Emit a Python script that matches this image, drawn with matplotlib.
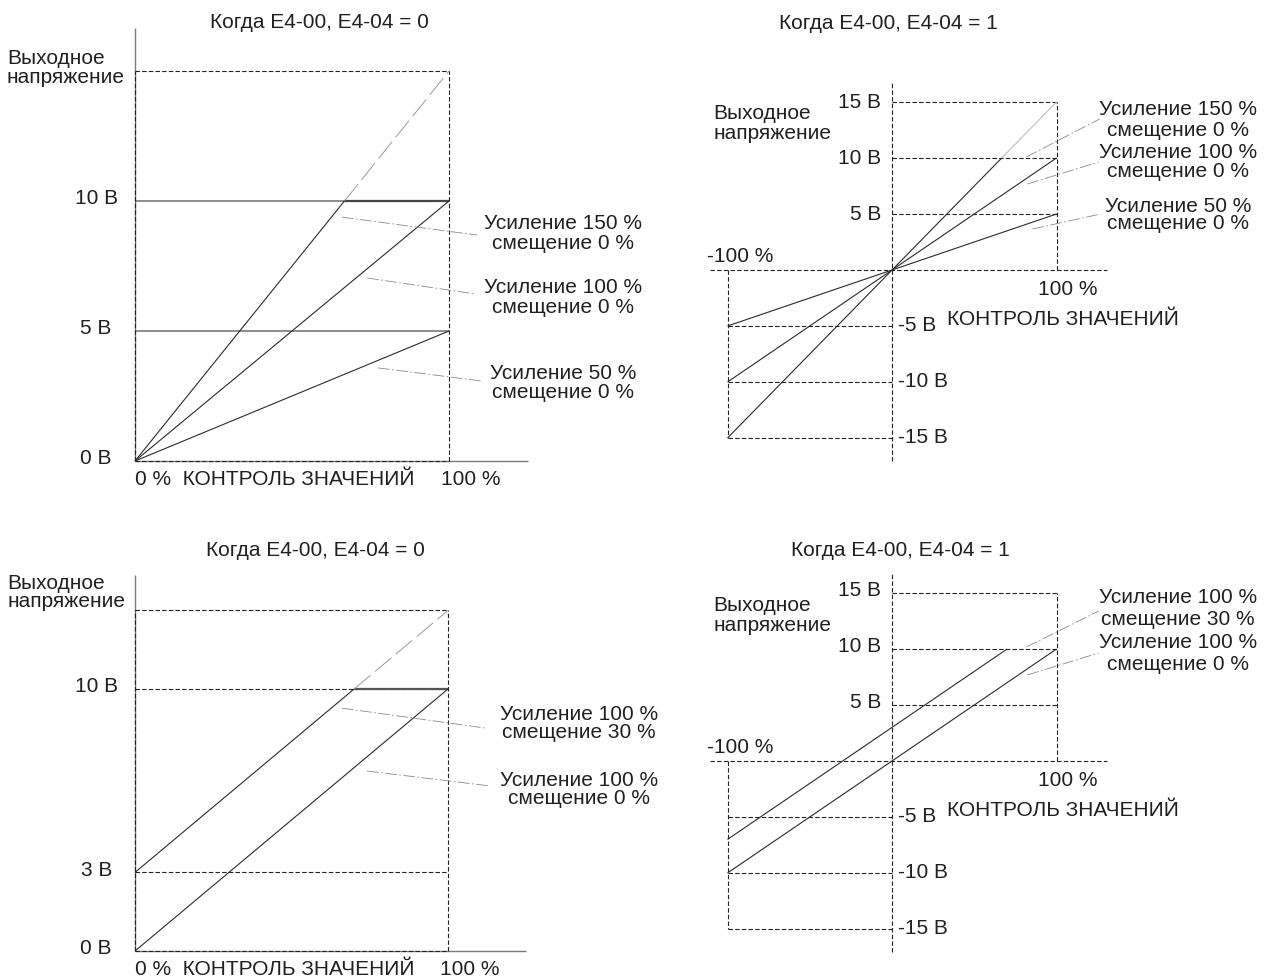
import matplotlib
matplotlib.use("Agg")
import matplotlib.pyplot as plt

plt.rcParams['font.family'] = ['Liberation Sans', 'DejaVu Sans']

W, H = 1269, 978

# ---- data: control value (%) vs output voltage (V) ----
# top-left: E4-00, E4-04 = 0, bias 0 %
tl_g150_x, tl_g150_y = [0, 66.7], [0, 10]
tl_g150_ext_x, tl_g150_ext_y = [66.7, 100], [10, 15]
tl_g100_x, tl_g100_y = [0, 100], [0, 10]
tl_g50_x, tl_g50_y = [0, 100], [0, 5]
tl_ticks = [10, 5, 0]
tl_tick_labels = ["10 В", "5 В", "0 В"]
tl_top = 15

# top-right: E4-00, E4-04 = 1, bias 0 %
tr_g150_x, tr_g150_y = [-100, 66.7], [-15, 10]
tr_g150_ext_x, tr_g150_ext_y = [66.7, 100], [10, 15]
tr_g100_x, tr_g100_y = [-100, 100], [-10, 10]
tr_g50_x, tr_g50_y = [-100, 100], [-5, 5]

# bottom-left: E4-00, E4-04 = 0, gain 100 %
bl_b30_x, bl_b30_y = [0, 70], [3, 10]
bl_b30_ext_x, bl_b30_ext_y = [70, 100], [10, 13]
bl_b0_x, bl_b0_y = [0, 100], [0, 10]
bl_ticks = [10, 3, 0]
bl_tick_labels = ["10 В", "3 В", "0 В"]
bl_top = 13

# bottom-right: E4-00, E4-04 = 1, gain 100 %
br_b30_x, br_b30_y = [-100, 70], [-7, 10]
br_b0_x, br_b0_y = [-100, 100], [-10, 10]

bip_pos = [15, 10, 5]
bip_neg = [-5, -10, -15]
bip_pos_labels = ["15 В", "10 В", "5 В"]
bip_neg_labels = ["-5 В", "-10 В", "-15 В"]

labels_gain = [("Усиление 150 %", "смещение 0 %"),
               ("Усиление 100 %", "смещение 0 %"),
               ("Усиление 50 %", "смещение 0 %")]
labels_bias = [("Усиление 100 %", "смещение 30 %"),
               ("Усиление 100 %", "смещение 0 %")]

TXT = '#231f20'
LN = '#2b2b2b'
FS = 15

fig = plt.figure(figsize=(W / 100, H / 100), dpi=100)


def make_ax(left, top, right, bottom, x0, xs, y0, ys):
    ax = fig.add_axes([left / W, 1 - bottom / H, (right - left) / W, (bottom - top) / H])
    ax.set_xlim((left - x0) / xs, (right - x0) / xs)
    ax.set_ylim((y0 - bottom) / ys, (y0 - top) / ys)
    ax.axis('off')
    return ax


def line(ax, x, y, **kw):
    kw.setdefault('color', LN)
    kw.setdefault('lw', 0.8)
    ax.plot(x, y, clip_on=False, solid_capstyle='butt', **kw)


def dash(ax, x, y):
    line(ax, x, y, color='#222222', lw=0.8, dashes=(4, 2))


def leader(ax, x, y):
    line(ax, x, y, color='#8a8a8a', lw=0.6, dashes=(14, 3, 2, 3))


def txt(ax, x, y, s, ha='center'):
    ax.text(x, y, s, ha=ha, va='center', fontsize=FS, color=TXT)


def unipolar(ax, top, ticks, tick_labels, ymax, title, title_xy, ylab_y):
    # axes
    line(ax, [0, 0], [0, ymax], color='#7a7a7a', lw=1.0)
    line(ax, [0, 125], [0, 0], color='#7a7a7a', lw=1.0)
    dash(ax, [0, 0], [0, top])
    dash(ax, [0, 100], [0, 0])
    dash(ax, [0, 100], [top, top])
    dash(ax, [100, 100], [0, top])
    for t, s in zip(ticks, tick_labels):
        txt(ax, -12.4, t + 0.12, s)
    txt(ax, title_xy[0], title_xy[1], title)
    txt(ax, -40.8, ylab_y[0], "Выходное", ha='left')
    txt(ax, -40.8, ylab_y[1], "напряжение", ha='left')
    ax.text(0, -0.66, "0 %  КОНТРОЛЬ ЗНАЧЕНИЙ", ha='left', va='center', fontsize=FS, color=TXT)
    ax.text(97.6, -0.66, "100 %", ha='left', va='center', fontsize=FS, color=TXT)


def bipolar(ax, title, title_xy, ylab_y, tick_dy):
    line(ax, [0, 0], [-17.05, 16.7], color='#222222', lw=0.8, dashes=(4, 2))
    line(ax, [-110.6, 131], [0, 0], color='#222222', lw=0.8, dashes=(4, 2))
    for v in bip_pos:
        dash(ax, [0, 100], [v, v])
    for v in bip_neg:
        dash(ax, [-100, 0], [v, v])
    dash(ax, [100, 100], [0, 15])
    dash(ax, [-100, -100], [0, -15])
    for v, s in zip(bip_pos, bip_pos_labels):
        txt(ax, -6.5, v + tick_dy, s, ha='right')
    for v, s in zip(bip_neg, bip_neg_labels):
        txt(ax, 3.6, v + 0.15, s, ha='left')
    txt(ax, -92.4, 1.3, "-100 %")
    txt(ax, 107, -1.68, "100 %")
    txt(ax, 104, -4.35, "КОНТРОЛЬ ЗНАЧЕНИЙ")
    txt(ax, title_xy[0], title_xy[1], title)
    txt(ax, -108.8, ylab_y[0], "Выходное", ha='left')
    txt(ax, -108.8, ylab_y[1], "напряжение", ha='left')


# ---------------- top-left ----------------
ax = make_ax(0, 0, 680, 500, 135, 3.14, 462, 26.0)
line(ax, [0, 100], [10, 10], color='#7a7a7a', lw=1.2)
line(ax, [0, 100], [5, 5], color='#7a7a7a', lw=1.2)
line(ax, [66.7, 100], [10, 10], color='#444444', lw=1.6)
unipolar(ax, tl_top, tl_ticks, tl_tick_labels, 16.65, "Когда E4-00, E4-04 = 0",
         (58.6, 16.92), (15.5, 14.77))
line(ax, tl_g150_x, tl_g150_y)
line(ax, tl_g150_ext_x, tl_g150_ext_y, color='#9a9a9a', lw=0.7, dashes=(22, 6))
line(ax, tl_g100_x, tl_g100_y)
line(ax, tl_g50_x, tl_g50_y)
tl_lead = [([65.9, 108.9], [9.38, 8.69]), ([73.9, 108.6], [7.04, 6.42]), ([77.4, 110.2], [3.58, 3.08])]
tl_lab_y = [(9.19, 8.42), (6.73, 5.96), (3.42, 2.69)]
for (lx, ly), (a, b), (ya, yb) in zip(tl_lead, labels_gain, tl_lab_y):
    leader(ax, lx, ly)
    txt(ax, 136.3, ya, a)
    txt(ax, 136.3, yb, b)

# ---------------- top-right ----------------
ax = make_ax(680, 0, 1269, 500, 892, 1.645, 271, 11.2)
bipolar(ax, "Когда E4-00, E4-04 = 1", (-2.4, 22.14), (14.1, 12.3), 0.0)
line(ax, tr_g150_x, tr_g150_y)
line(ax, tr_g150_ext_x, tr_g150_ext_y, color='#bdbdbd', lw=0.8)
line(ax, tr_g100_x, tr_g100_y)
line(ax, tr_g50_x, tr_g50_y)
tr_lead = [([81.7, 126.2], [10.09, 13.48]), ([82.3, 125.6], [7.68, 9.64]), ([85.4, 126.8], [3.66, 5.0])]
tr_lab_y = [(14.46, 12.5), (10.54, 8.84), (5.8, 4.2)]
for (lx, ly), (a, b), (ya, yb) in zip(tr_lead, labels_gain, tr_lab_y):
    leader(ax, lx, ly)
    txt(ax, 173.9, ya, a)
    txt(ax, 173.9, yb, b)

# ---------------- bottom-left ----------------
ax = make_ax(0, 500, 680, 978, 135, 3.13, 952, 26.2)
unipolar(ax, bl_top, bl_ticks, bl_tick_labels, 14.35, "Когда E4-00, E4-04 = 0",
         (57.8, 15.34), (14.08, 13.36))
dash(ax, [0, 100], [10, 10])
dash(ax, [0, 100], [3, 3])
line(ax, [70, 100], [10, 10], color='#555555', lw=1.6)
line(ax, bl_b30_x, bl_b30_y)
line(ax, bl_b30_ext_x, bl_b30_ext_y, color='#9a9a9a', lw=0.7, dashes=(22, 6))
line(ax, bl_b0_x, bl_b0_y)
bl_lead = [([66.1, 111.8], [9.27, 8.51]), ([74.1, 113.4], [6.87, 6.30])]
bl_lab_y = [(9.05, 8.36), (6.56, 5.84)]
for (lx, ly), (a, b), (ya, yb) in zip(bl_lead, labels_bias, bl_lab_y):
    leader(ax, lx, ly)
    txt(ax, 141.9, ya, a)
    txt(ax, 141.9, yb, b)

# ---------------- bottom-right ----------------
ax = make_ax(680, 500, 1269, 978, 892, 1.645, 762, 11.2)
bipolar(ax, "Когда E4-00, E4-04 = 1", (4.9, 18.84), (13.93, 12.23), 0.3)
line(ax, br_b30_x, br_b30_y)
line(ax, br_b0_x, br_b0_y)
br_lead = [([81.7, 125.6], [10.18, 13.39]), ([82.3, 125.6], [7.68, 9.64])]
br_lab_y = [(14.73, 12.68), (10.63, 8.75)]
for (lx, ly), (a, b), (ya, yb) in zip(br_lead, labels_bias, br_lab_y):
    leader(ax, lx, ly)
    txt(ax, 173.9, ya, a)
    txt(ax, 173.9, yb, b)

fig.savefig("out.png", dpi=100, facecolor='white')
